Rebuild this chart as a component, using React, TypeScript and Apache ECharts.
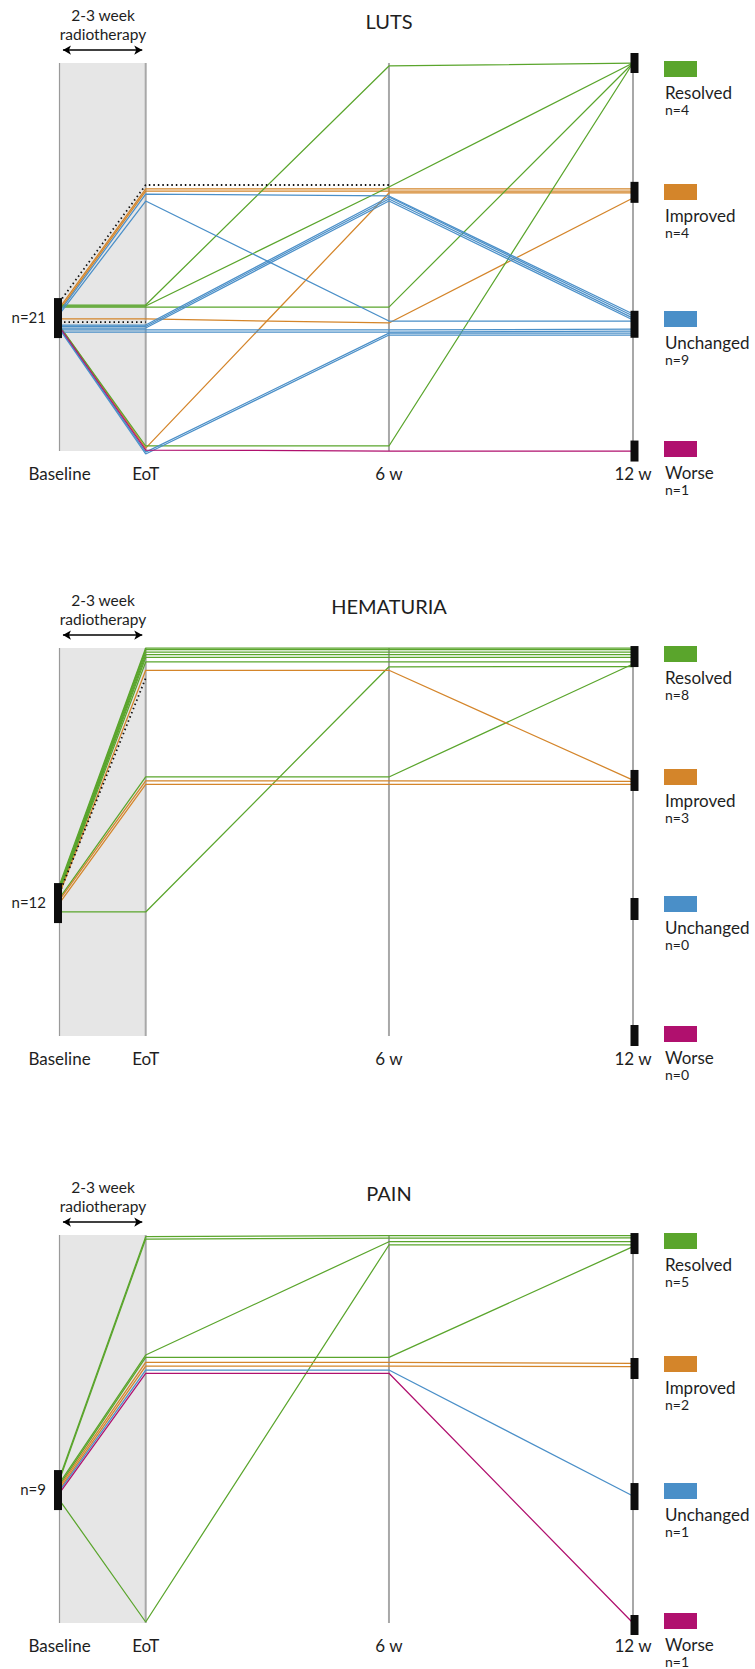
import React, { useEffect, useRef } from 'react';
import * as echarts from 'echarts';

// ---------- data ----------
const timepointLabels = ['Baseline', 'EoT', '6 w', '12 w'];
// relative horizontal position of each time point on the x scale
const timepointPos = [0, 1, 3.822, 6.653];

const panelTitles = ['LUTS', 'HEMATURIA', 'PAIN'];
const baselineN = [21, 12, 9];

const outcomeNames = ['Resolved', 'Improved', 'Unchanged', 'Worse'];

// symptom score scale: 0 = worse, 1 = unchanged, 2 = improved, 3 = resolved (with small per-patient offsets)
// outcome codes: R resolved, I improved, U unchanged, W worse, M missing follow-up (dotted)
const lutsOutcome = ['M', 'M', 'I', 'I', 'I', 'I', 'R', 'R', 'R', 'R', 'U', 'U', 'U', 'U', 'U', 'U', 'U', 'U', 'U', 'W'];
const lutsScores: (number | null)[][] = [
  [1.152, 2.057, 2.057, null],
  [0.997, 0.997, null, null],
  [1.106, 2.026, 2.026, 2.026],
  [1.09, 2.01, 2.01, 2.01],
  [1.021, 1.021, 0.99, 1.956],
  [0.967, 0.023, 1.995, 1.995],
  [1.129, 1.129, 2.977, 3.0],
  [1.121, 1.121, 2.041, 3.0],
  [1.113, 1.113, 1.113, 3.0],
  [0.967, 0.039, 0.039, 3.0],
  [1.075, 1.987, 1.972, 1.059],
  [1.059, 1.933, 1.005, 1.005],
  [0.974, 0.974, 1.964, 1.044],
  [0.963, 0.963, 1.949, 1.028],
  [0.951, 0.951, 1.933, 1.013],
  [0.936, 0.936, 0.936, 0.943],
  [0.92, 0.92, 0.92, 0.928],
  [0.951, -0.008, 0.912, 0.912],
  [0.943, -0.023, 0.897, 0.897],
  [0.959, 0.008, 0.0, 0.0],
];
const lutsCounts = [4, 4, 9, 1];
const lutsEndMarkers = [3.0, 2.0, 0.98, 0.0];
const lutsEndHeights = [20, 21, 27, 21];

const hemOutcome = ['R', 'R', 'R', 'R', 'R', 'R', 'R', 'R', 'I', 'I', 'I', 'M'];
const hemScores: (number | null)[][] = [
  [1.168, 3.0, 3.0, 3.0],
  [1.152, 2.987, 2.987, 2.987],
  [1.137, 2.969, 2.969, 2.969],
  [1.129, 2.948, 2.948, 2.948],
  [1.121, 2.927, 2.927, 2.927],
  [1.113, 2.892, 2.892, 2.892],
  [1.067, 2.003, 2.003, 2.876],
  [0.959, 0.959, 2.855, 2.857],
  [1.098, 2.828, 2.828, 1.979],
  [1.052, 1.972, 1.972, 1.968],
  [1.028, 1.946, 1.946, 1.945],
  [1.106, 2.768, null, null],
];
const hemCounts = [8, 3, 0, 0];
const hemEndMarkers = [2.934, 1.976, 0.982, 0.004];
const hemEndHeights = [21, 21, 22, 21];

const painOutcome = ['R', 'R', 'R', 'R', 'R', 'I', 'I', 'U', 'W'];
const painScores: (number | null)[][] = [
  [1.121, 2.987, 2.996, 2.996],
  [1.106, 2.969, 2.975, 2.977],
  [1.082, 2.072, 2.948, 2.948],
  [0.951, 0.008, 2.923, 2.923],
  [1.067, 2.054, 2.054, 2.91],
  [1.052, 2.016, 2.016, 2.008],
  [1.036, 1.987, 1.987, 1.982],
  [1.021, 1.956, 1.956, 0.982],
  [1.005, 1.931, 1.931, 0.0],
];
const painCounts = [5, 2, 1, 1];
const painEndMarkers = [2.934, 1.968, 0.978, -0.015];
const painEndHeights = [21, 21, 27, 20];

const baselineMarkerScore = 1.028;

// ---------- styles / layout ----------
const COLORS: Record<string, string> = {
  R: '#5aa52c',
  I: '#d4852a',
  U: '#4a8fc8',
  W: '#b0106e',
  M: '#111111',
};
const legendColors = [COLORS.R, COLORS.I, COLORS.U, COLORS.W];
const FONT = 'Lato, "Open Sans", sans-serif';
const TEXT = '#1e1e1e';

const panelOffsets = [0, 585, 1172];
const GRID_LEFT = 59.5;
const GRID_WIDTH = 573.5;
const GRID_TOP = 50.07;
const GRID_HEIGHT = 413.9;
const Y_MIN = -0.1;
const Y_MAX = 3.1;
const legendTops = [61, 184, 311, 441];

function buildOption() {
  const panels = [
    { outcome: lutsOutcome, scores: lutsScores, counts: lutsCounts, ends: lutsEndMarkers, endH: lutsEndHeights },
    { outcome: hemOutcome, scores: hemScores, counts: hemCounts, ends: hemEndMarkers, endH: hemEndHeights },
    { outcome: painOutcome, scores: painScores, counts: painCounts, ends: painEndMarkers, endH: painEndHeights },
  ];

  const grid: any[] = [];
  const xAxis: any[] = [];
  const yAxis: any[] = [];
  const series: any[] = [];
  const graphic: any[] = [];

  panels.forEach((p, pi) => {
    const off = panelOffsets[pi];
    grid.push({ left: GRID_LEFT, width: GRID_WIDTH, top: off + GRID_TOP, height: GRID_HEIGHT });
    xAxis.push({
      gridIndex: pi,
      type: 'value',
      min: 0,
      max: timepointPos[timepointPos.length - 1],
      axisLine: { show: false },
      axisTick: { show: false },
      splitLine: { show: false },
      axisLabel: {
        customValues: timepointPos,
        showMinLabel: true,
        showMaxLabel: true,
        margin: 1,
        fontSize: 17,
        fontFamily: FONT,
        color: TEXT,
        formatter: (v: number) => {
          const idx = timepointPos.findIndex((t) => Math.abs(t - v) < 1e-6);
          return idx >= 0 ? timepointLabels[idx] : '';
        },
      },
    });
    yAxis.push({ gridIndex: pi, type: 'value', min: Y_MIN, max: Y_MAX, show: false });

    // vertical time-point axes
    timepointPos.forEach((x, ti) => {
      const s: any = {
        type: 'line',
        xAxisIndex: pi,
        yAxisIndex: pi,
        data: [
          [x, 3],
          [x, 0],
        ],
        symbol: 'none',
        silent: true,
        clip: false,
        lineStyle: { color: ti === 0 ? '#9a9a9a' : '#a8a8a8', width: ti === 0 ? 1.2 : 2 },
        z: 1,
      };
      if (ti === 0) {
        s.markArea = {
          silent: true,
          itemStyle: { color: '#e6e6e6' },
          data: [[{ coord: [timepointPos[0], 3] }, { coord: [timepointPos[1], 0] }]],
        };
        s.markLine = {
          silent: true,
          symbol: ['arrow', 'arrow'],
          symbolSize: [7, 8],
          lineStyle: { color: '#000', width: 1.5, type: 'solid' },
          label: { show: false },
          data: [[{ coord: [timepointPos[0] + 0.04, 3.1] }, { coord: [timepointPos[1] - 0.04, 3.1] }]],
        };
      }
      series.push(s);
    });

    // patient trajectories (dotted/missing drawn last)
    const order = p.outcome.map((_, i) => i).sort((a, b) => {
      const w = (o: string) => (o === 'M' ? 1 : 0);
      return w(p.outcome[a]) - w(p.outcome[b]);
    });
    order.forEach((idx) => {
      const code = p.outcome[idx];
      const vals = p.scores[idx];
      const data: number[][] = [];
      vals.forEach((v, ti) => {
        if (v !== null) data.push([timepointPos[ti], v]);
      });
      series.push({
        type: 'line',
        xAxisIndex: pi,
        yAxisIndex: pi,
        data,
        symbol: 'none',
        silent: true,
        clip: false,
        z: 3,
        lineStyle:
          code === 'M'
            ? { color: COLORS.M, width: 1.8, type: [1.5, 3] }
            : { color: COLORS[code], width: 1.25 },
      });
    });

    // baseline and 12-week black markers
    const last = timepointPos[timepointPos.length - 1];
    series.push({
      type: 'scatter',
      xAxisIndex: pi,
      yAxisIndex: pi,
      silent: true,
      clip: false,
      z: 5,
      symbol: 'rect',
      itemStyle: { color: '#0d0d0d', opacity: 1 },
      data: [
        { value: [timepointPos[0], baselineMarkerScore], symbolSize: [8, 40], symbolOffset: [-1.5, 0] },
        ...p.ends.map((v, k) => ({ value: [last, v], symbolSize: [8, p.endH[k]], symbolOffset: [1.5, 0] })),
      ],
    });

    // texts
    graphic.push({
      type: 'text',
      x: 389,
      y: off + 21,
      style: { text: panelTitles[pi], fontSize: 20, fontFamily: FONT, fill: TEXT, textAlign: 'center', textVerticalAlign: 'middle' },
    });
    graphic.push({
      type: 'text',
      x: 103,
      y: off + 15,
      style: { text: '2-3 week', fontSize: 15.5, fontFamily: FONT, fill: TEXT, textAlign: 'center', textVerticalAlign: 'middle' },
    });
    graphic.push({
      type: 'text',
      x: 103,
      y: off + 34,
      style: { text: 'radiotherapy', fontSize: 15.5, fontFamily: FONT, fill: TEXT, textAlign: 'center', textVerticalAlign: 'middle' },
    });
    graphic.push({
      type: 'text',
      x: 46,
      y: off + 317,
      style: { text: 'n=' + baselineN[pi], fontSize: 15, fontFamily: FONT, fill: TEXT, textAlign: 'right', textVerticalAlign: 'middle' },
    });

    // legend
    outcomeNames.forEach((name, k) => {
      const top = off + legendTops[k];
      graphic.push({ type: 'rect', shape: { x: 664, y: top, width: 33, height: 16 }, style: { fill: legendColors[k] } });
      graphic.push({
        type: 'text',
        x: 665,
        y: top + 31,
        style: { text: name, fontSize: 17, fontFamily: FONT, fill: TEXT, textAlign: 'left', textVerticalAlign: 'middle' },
      });
      graphic.push({
        type: 'text',
        x: 665,
        y: top + 48,
        style: { text: 'n=' + p.counts[k], fontSize: 14, fontFamily: FONT, fill: TEXT, textAlign: 'left', textVerticalAlign: 'middle' },
      });
    });
  });

  return { animation: false, backgroundColor: '#ffffff', grid, xAxis, yAxis, series, graphic };
}

export default function App() {
  const ref = useRef<HTMLDivElement>(null);
  useEffect(() => {
    document.body.style.margin = '0';
    const chart = echarts.init(ref.current as HTMLDivElement, null, { renderer: 'svg' });
    chart.setOption(buildOption() as any);
    return () => chart.dispose();
  }, []);
  return <div ref={ref} style={{ width: 755, height: 1669 }} />;
}
